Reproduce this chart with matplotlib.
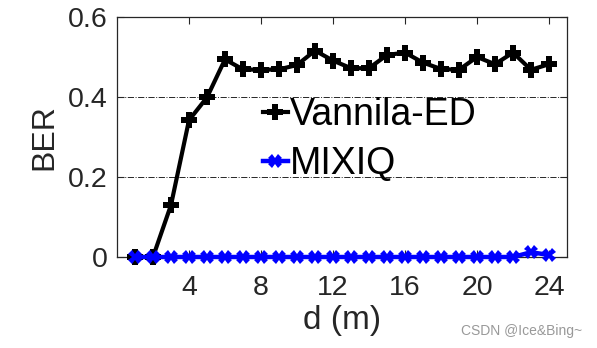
import numpy as np
import matplotlib
matplotlib.use('Agg')
import matplotlib.pyplot as plt

plt.rcParams['font.family'] = ['Liberation Sans', 'DejaVu Sans']

# distance (m)
d = list(range(1, 25))
# BER values
berED = [0, 0, 0.13, 0.342, 0.399, 0.494, 0.469, 0.468, 0.469, 0.48,
         0.516, 0.491, 0.472, 0.472, 0.505, 0.511, 0.486, 0.47, 0.468, 0.5,
         0.482, 0.511, 0.468, 0.482]
berMIX = [0]*22 + [0.012, 0.005]
xticks = [4, 8, 12, 16, 20, 24]
yticks = [0, 0.2, 0.4, 0.6]
ytickLabels = ['0', '0.2', '0.4', '0.6']

fig = plt.figure(figsize=(5.97, 3.48), dpi=100)
ax = fig.add_axes([117/597, 1-257/348, 450/597, 240/348])

ax.plot(d, berED, color='black', lw=3, marker='P', ms=12, mew=0,
        label='Vannila-ED', zorder=3, clip_on=False)
ax.plot(d, berMIX, color='#0000ff', lw=3.2, marker='X', ms=9.5, mew=0,
        label='MIXIQ', zorder=4, clip_on=False)

ax.set_xlim(0, 25)
ax.set_ylim(0, 0.6)
ax.set_xticks(xticks)
ax.set_yticks(yticks)
ax.set_yticklabels(ytickLabels)
ax.tick_params(direction='in', length=5, width=0.8, labelsize=20.5,
               top=True, right=True, colors='#262626')
ax.tick_params(axis='x', pad=13)
ax.tick_params(axis='y', pad=7)
for s in ax.spines.values():
    s.set_color('#262626')
    s.set_linewidth(0.9)
ax.yaxis.grid(True, linestyle='-.', color='#262626', lw=0.7)
ax.set_axisbelow(True)

ax.set_xlabel('d (m)', fontsize=24, color='#262626', labelpad=3)
ax.set_ylabel('BER', fontsize=23, color='#262626', labelpad=6)

leg = ax.legend(loc='upper left', bbox_to_anchor=(0.325, 0.665), fontsize=27,
                frameon=False, handlelength=0.65, handletextpad=0.05,
                borderpad=0, labelspacing=0.33, borderaxespad=0)

fig.text(0.975, 0.05, 'CSDN @Ice&Bing~', fontsize=10, color='#999999',
         ha='right', va='center')

fig.savefig('out.png', dpi=100)
